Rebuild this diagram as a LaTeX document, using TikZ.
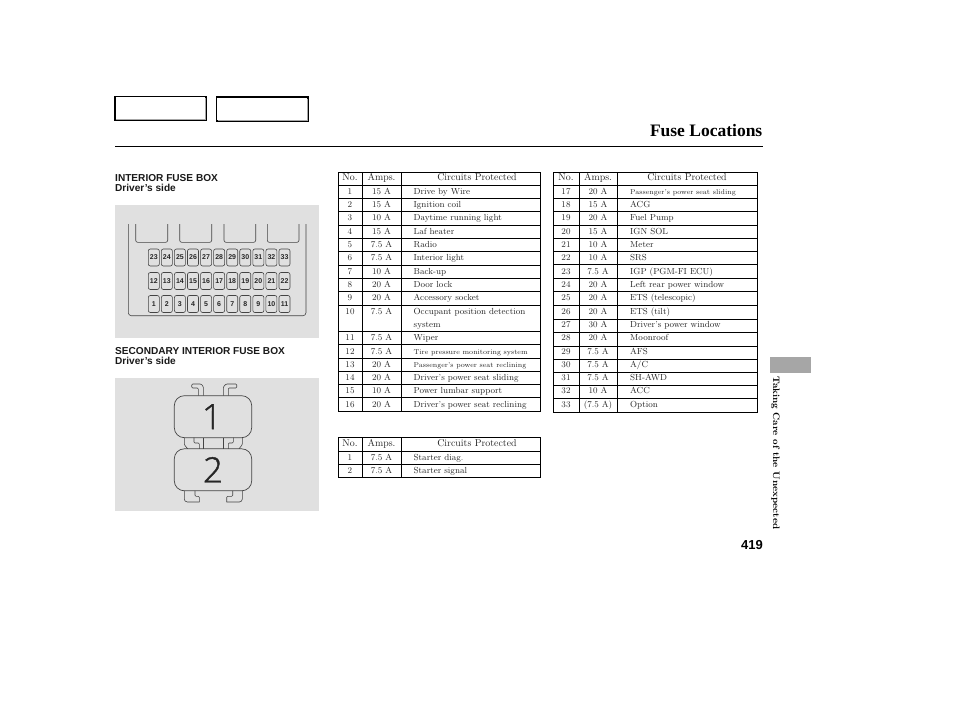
\documentclass[tikz,border=0pt]{standalone}
\usepackage{fontspec}
\setsansfont{Liberation Sans}
\newfontfamily\titlefont{Liberation Serif}
\newfontfamily\digitfont[FakeBold=1.2]{Open Sans Light}
\definecolor{panelgray}{HTML}{E0E0E0}
\definecolor{tabgray}{HTML}{A6A6A6}
\definecolor{partline}{HTML}{444444}
\newcommand{\smalltext}{\fontsize{7.05}{8}\selectfont}
\tikzset{
  headbox/.style={draw=black, line width=1.3pt, fill=white},
  tablerule/.style={draw=black, line width=0.8pt},
  cell/.style={anchor=base, inner sep=0pt, font=\fontsize{8.8}{10}\selectfont, text=black!85},
  celltext/.style={cell, anchor=base west},
  headcell/.style={cell, font=\fontsize{9.9}{10}\selectfont},
  boxtitle/.style={anchor=base west, inner sep=0pt, font=\fontsize{10.1}{11}\selectfont\sffamily\bfseries, text=black!90},
  fusebox/.style={draw=partline, line width=0.6pt, rounded corners=2pt, fill=panelgray, minimum width=11pt,
    minimum height=17pt, inner sep=0pt, font=\fontsize{7}{8}\selectfont\sffamily\bfseries, text=black!85},
  bigfuse/.style={draw=partline, line width=0.7pt, rounded corners=10pt, minimum width=77.4pt,
    minimum height=42pt, inner sep=0pt, text=black!85, font=\fontsize{35}{40}\selectfont\digitfont},
  partoutline/.style={draw=partline, line width=0.6pt, rounded corners=1pt},
}
\begin{document}
\begin{tikzpicture}[x=1pt, y=-1pt]
      \useasboundingbox (0,0) rectangle (954,710);
      %
      % header boxes
      \draw[headbox] (115,96.5) rectangle (206,120);
      \draw[gray!70, line width=0.5pt] (205,98) -- (205,119) -- (116,119);
      \draw[headbox] (216.5,97) rectangle (308,121);
      \draw[gray!70, line width=0.5pt] (307,98.5) -- (307,120) -- (217.5,120);
      %
      \node[anchor=base east, inner sep=0pt, font=\fontsize{17.5}{20}\selectfont\titlefont\bfseries] (pagetitle) at (762.5,136.5) {Fuse Locations};
      \draw[black, line width=0.9pt] (115,146.5) -- (763,146.5);
      %
      % left panels
      \node[boxtitle] (intertitle) at (115,181.5) {INTERIOR FUSE BOX};
      \node[boxtitle] (interside) at (115,191.5) {Driver's side};
      \fill[panelgray] (115,205) rectangle (319,338);
      \node[boxtitle] (secondtitle) at (115,354.5) {SECONDARY INTERIOR FUSE BOX};
      \node[boxtitle] (secondside) at (115,364.5) {Driver's side};
      \fill[panelgray] (115,377.5) rectangle (319,511);
      %
      % fuse box outline
      \draw[partoutline, rounded corners=3pt] (128.3,224) -- (128.3,315.7) -- (306,315.7) -- (306,224);
      \foreach \xa/\xb in {135.7/167.7, 179.7/211.7, 224/255.7, 267.3/299}
        \draw[partoutline, rounded corners=2pt] (\xa,224) -- (\xa,242.3) -- (\xb,242.3) -- (\xb,224);
      %
      % fuses
      \foreach \first/\yf in {1/304, 12/281, 23/257.5} {
        \foreach \i in {0,...,10} {
          \pgfmathtruncatemacro{\n}{\first+\i}
          \node[fusebox] (fuse\n) at (153.8+13.07*\i,\yf) {\n};
        }
      }
      %
      % secondary fuses
      \node[bigfuse] (fuseone) at (213,416.7) {\hspace*{-2pt}1};
      \node[bigfuse] (fusetwo) at (213,469.8) {\raisebox{-2pt}{2}};
      \draw[partoutline] (203.3,395.7) -- (203.3,386.3) -- (201,384) -- (191.7,384) -- (191.7,388) -- (198.3,388) -- (198.3,395.7);
      \draw[partoutline] (223.3,395.7) -- (223.3,387) -- (226,384) -- (236.7,384) -- (236.7,388) -- (228.3,388) -- (228.3,395.7);
      \draw[partoutline] (184.3,437.7) -- (184.3,444.7) -- (187.7,448.8);
      \draw[partoutline] (194,437.7) -- (194,443) -- (199.3,443) -- (199.3,448.8);
      \draw[partoutline] (203.3,437.7) -- (203.3,448.8);
      \draw[partoutline] (223.3,437.7) -- (223.3,448.8);
      \draw[partoutline] (233.3,437.7) -- (233.3,443) -- (228.3,443) -- (228.3,448.8);
      \draw[partoutline] (242.3,437.7) -- (242.3,444.7) -- (239,448.8);
      \draw[partoutline, rounded corners=3pt] (184.3,490.8) -- (184.3,502) -- (199.3,502);
      \draw[partoutline] (199.3,502) -- (199.3,496.3) -- (195,496.3) -- (195,490.8);
      \draw[partoutline, rounded corners=3pt] (242.3,490.8) -- (242.3,502) -- (226.7,502);
      \draw[partoutline] (226.7,502) -- (226.7,496.3) -- (232.7,496.3) -- (232.7,490.8);
      %
      % first table
      \draw[tablerule] (338,172) rectangle (540.5,411);
      \draw[tablerule] (362,172) -- (362,411);
      \draw[tablerule] (401.5,172) -- (401.5,411);
      \foreach \y in {185,198,211.5,225,238,251.5,265,278,291.5,305,331,344.5,358,371.5,384.5,397.5}
        \draw[tablerule] (338,\y) -- (540.5,\y);
      \node[headcell] (ahno) at (350,180.5) {No.};
      \node[headcell] (ahamps) at (381.5,180.5) {Amps.};
      \node[headcell] (ahcirc) at (477,180.5) {Circuits Protected};
      \foreach \n/\a/\c/\y in {
        1/15 A/Drive by Wire/194,
        2/15 A/Ignition coil/207,
        3/10 A/Daytime running light/220.5,
        4/15 A/Laf heater/234,
        5/7.5 A/Radio/247,
        6/7.5 A/Interior light/260.5,
        7/10 A/Back-up/274,
        8/20 A/Door lock/287,
        9/20 A/Accessory socket/300.5,
        10/7.5 A/Occupant position detection/314,
        11/7.5 A/Wiper/340.5,
        12/7.5 A/{\smalltext Tire pressure monitoring system}/354,
        13/20 A/{\smalltext Passenger's power seat reclining}/367,
        14/20 A/Driver's power seat sliding/380.5,
        15/10 A/Power lumbar support/393.5,
        16/20 A/Driver's power seat reclining/407} {
        \node[cell] (ano\n) at (350,\y) {\n};
        \node[cell] (aamps\n) at (381.5,\y) {\a};
        \node[celltext] (acirc\n) at (413.5,\y) {\c};
      }
      \node[celltext] (acirc10b) at (413.5,327) {system};
      %
      % second table
      \draw[tablerule] (553,172) rectangle (757.5,412);
      \draw[tablerule] (579,172) -- (579,412);
      \draw[tablerule] (617.5,172) -- (617.5,412);
      \foreach \y in {185,198,211.5,225,238,251,264.5,278,291,305,319,332.5,346,359,372,385,398}
        \draw[tablerule] (553,\y) -- (757.5,\y);
      \node[headcell] (bhno) at (566,180.5) {No.};
      \node[headcell] (bhamps) at (598,180.5) {Amps.};
      \node[headcell] (bhcirc) at (687,180.5) {Circuits Protected};
      \foreach \n/\a/\c/\y in {
        17/20 A/{\smalltext Passenger's power seat sliding}/194,
        18/15 A/ACG/207,
        19/20 A/Fuel Pump/220.5,
        20/15 A/IGN SOL/234,
        21/10 A/Meter/247,
        22/10 A/SRS/260.5,
        23/7.5 A/IGP (PGM-FI ECU)/274,
        24/20 A/Left rear power window/287,
        25/20 A/ETS (telescopic)/300.5,
        26/20 A/ETS (tilt)/314,
        27/30 A/Driver's power window/327,
        28/20 A/Moonroof/340.5,
        29/7.5 A/AFS/354,
        30/7.5 A/{A/C}/367,
        31/7.5 A/SH-AWD/380.5,
        32/10 A/ACC/393.5,
        33/(7.5 A)/Option/407} {
        \node[cell] (bno\n) at (566,\y) {\n};
        \node[cell] (bamps\n) at (598,\y) {\a};
        \node[celltext] (bcirc\n) at (630,\y) {\c};
      }
      %
      % third table
      \draw[tablerule] (338,437.5) rectangle (540.5,477);
      \draw[tablerule] (362,437.5) -- (362,477);
      \draw[tablerule] (401.5,437.5) -- (401.5,477);
      \foreach \y in {451,464}
        \draw[tablerule] (338,\y) -- (540.5,\y);
      \node[headcell] (chno) at (350,446.5) {No.};
      \node[headcell] (champs) at (381.5,446.5) {Amps.};
      \node[headcell] (chcirc) at (477,446.5) {Circuits Protected};
      \foreach \n/\a/\c/\y in {1/7.5 A/Starter diag./460, 2/7.5 A/Starter signal/473} {
        \node[cell] (cno\n) at (350,\y) {\n};
        \node[cell] (camps\n) at (381.5,\y) {\a};
        \node[celltext] (ccirc\n) at (413.5,\y) {\c};
      }
      %
      % side tab and page number
      \fill[tabgray] (770,356.7) rectangle (811,372.7);
      \node[rotate=-90, anchor=base west, inner sep=0pt, font=\fontsize{9.4}{10}\selectfont\bfseries] (sidetext) at (773,376) {Taking Care of the Unexpected};
      \node[anchor=base east, inner sep=0pt, font=\fontsize{13}{14}\selectfont\sffamily\bfseries] (pagenum) at (763,549) {419};
      %
    \end{tikzpicture}
\end{document}
